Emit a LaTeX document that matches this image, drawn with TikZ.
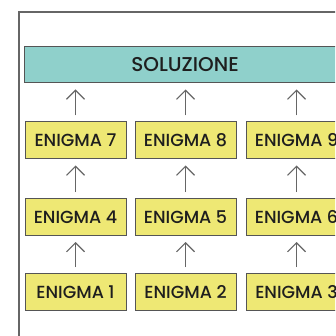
\documentclass[tikz,border=0pt]{standalone}
\usepackage{fontspec}
\setmainfont{Poppins Medium}
\usetikzlibrary{arrows.meta}
\definecolor{teal}{HTML}{8FD0CB}
\definecolor{ylw}{HTML}{EEE874}
\definecolor{edge}{HTML}{555555}
\definecolor{txt}{HTML}{1E1E1E}
\tikzset{
  enig/.style={draw=edge, line width=1pt, fill=ylw, minimum width=101pt, minimum height=37pt, inner sep=0pt, text=txt, font=\fontsize{17.5}{17.5}\selectfont},
  sol/.style={draw=edge, line width=1pt, fill=teal, minimum width=322pt, minimum height=36pt, inner sep=0pt, text=txt, font=\fontsize{20}{20}\selectfont},
  up/.style={draw=edge!90, line width=1.1pt, -{Straight Barb[length=9pt, width=18pt, line width=1.1pt]}, shorten <=6pt, shorten >=6pt}
}
\begin{document}
\begin{tikzpicture}[x=1pt, y=-1pt]
\useasboundingbox (0,0) rectangle (335,336);
\clip (0,0) rectangle (335,336);
\fill[white] (0,0) rectangle (335,336);
\draw[draw=edge!90, line width=1.3pt] (19,340) -- (19,12) -- (340,12);
\node[sol] (S) at (185,65) {SOLUZIONE};
\node[enig] (E7) at (75.5,140.5) {ENIGMA 7};
\node[enig] (E8) at (185.5,140.5) {ENIGMA 8};
\node[enig] (E9) at (296.5,140.5) {ENIGMA 9};
\node[enig] (E4) at (75.5,217) {ENIGMA 4};
\node[enig] (E5) at (185.5,217) {ENIGMA 5};
\node[enig] (E6) at (296.5,217) {ENIGMA 6};
\node[enig] (E1) at (75.5,292) {ENIGMA 1};
\node[enig] (E2) at (185.5,292) {ENIGMA 2};
\node[enig] (E3) at (296.5,292) {ENIGMA 3};
\foreach \a/\b in {E7/S,E8/S,E9/S,E4/E7,E5/E8,E6/E9,E1/E4,E2/E5,E3/E6}
  \draw[up] (\a.north) -- (\a.north |- \b.south);
\end{tikzpicture}
\end{document}
